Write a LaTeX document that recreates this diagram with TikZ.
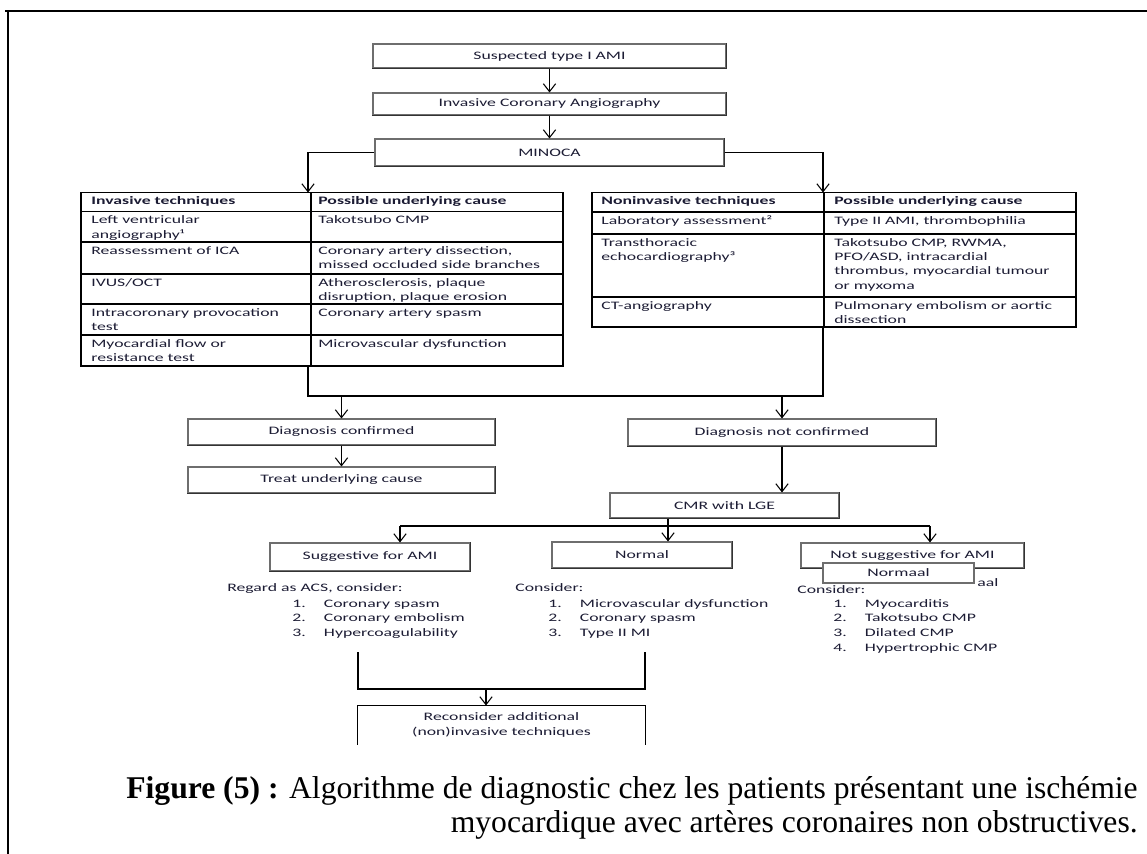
\documentclass[tikz,border=0pt]{standalone}
\usepackage{fontspec}
\setmainfont{Liberation Serif}
\newfontfamily\flowfont{Carlito}[FakeStretch=1.55]
\usetikzlibrary{arrows.meta}
\definecolor{ink}{RGB}{28,28,52}
\definecolor{boxgray}{RGB}{110,110,110}
\newcommand{\litem}[2]{\makebox[18pt][l]{#1}#2}
\tikzset{
  flowbox/.style={rectangle,draw=boxgray,line width=0.6pt,fill=white,inner sep=0pt,
    font=\flowfont\fontsize{6.5}{8.5}\selectfont,text=ink,align=center},
  boxedge/.style={draw=black!80,line width=0.7pt},
  tabtxt/.style={anchor=north west,inner sep=0pt,align=left,
    font=\flowfont\fontsize{6.5}{8.2}\selectfont,text=ink},
  listtxt/.style={anchor=north west,inner sep=0pt,align=left,
    font=\flowfont\fontsize{6.5}{8.5}\selectfont,text=ink},
  listhd/.style={anchor=base west,inner sep=0pt,
    font=\flowfont\fontsize{6.5}{8.5}\selectfont,text=ink},
  tabline/.style={draw=black,line width=0.6pt},
  arr/.style={-{Straight Barb[length=4.5pt,width=7pt]},line width=0.6pt,draw=black},
  link/.style={line width=0.6pt,draw=black},
  capline/.style={anchor=base east,inner sep=0pt,font=\fontsize{18}{21}\selectfont},
}

\begin{document}
\begin{tikzpicture}[x=0.2mm,y=-0.2mm]
  \useasboundingbox (0,0) rectangle (1147,854);

  % page frame
  \draw[line width=1.3pt] (5,11) -- (1147,11);
  \draw[line width=1.3pt] (8,11) -- (8,854);

  % main flow
  \node[flowbox,minimum width=70.6mm,minimum height=4.8mm] (sus) at (549.5,56) {Suspected type I AMI};
  \node[flowbox,minimum width=70.6mm,minimum height=4.4mm] (ica) at (549.5,104) {Invasive Coronary Angiography};
  \node[flowbox,minimum width=69.8mm,minimum height=5.4mm] (mino) at (549.5,152.5) {MINOCA};

  \node[flowbox,minimum width=61.4mm,minimum height=5.2mm] (dc) at (341.5,432) {Diagnosis confirmed};
  \node[flowbox,minimum width=61.4mm,minimum height=5.2mm] (treat) at (341.5,480) {Treat underlying cause};
  \node[flowbox,minimum width=61.6mm,minimum height=5.4mm] (dnc) at (782,432.5) {Diagnosis not confirmed};
  \node[flowbox,minimum width=45.8mm,minimum height=5mm] (cmr) at (724.5,505.5) {CMR with LGE};

  \node[flowbox,minimum width=40mm,minimum height=5.6mm] (sug) at (370,557) {Suggestive for AMI};
  \node[flowbox,minimum width=36mm,minimum height=5.2mm] (nrm) at (642,555) {Normal};
  \node[flowbox,minimum width=44.6mm,minimum height=5mm] (nsug) at (912.5,555.5) {Not suggestive for AMI};

  \foreach \n in {sus,ica,mino,dc,treat,dnc,cmr,sug,nrm,nsug}
    \draw[boxedge] (\n.north east) -- (\n.south east) -- (\n.south west);

  % left table
  \draw[tabline] (81,192.5) rectangle (563,366);
  \draw[tabline] (311,192.5) -- (311,366);
  \foreach \y in {211.7,242,274,304,335}
    \draw[tabline] (81,\y) -- (563,\y);
  \node[tabtxt] (lh1) at (91,194.2) {\strut\textbf{Invasive techniques}};
  \node[tabtxt] (lh2) at (318,194.2) {\strut\textbf{Possible underlying cause}};
  \node[tabtxt] (la1) at (91,213.4) {\strut Left ventricular\\angiography¹};
  \node[tabtxt] (lb1) at (318,213.4) {\strut Takotsubo CMP};
  \node[tabtxt] (la2) at (91,243.7) {\strut Reassessment of ICA};
  \node[tabtxt] (lb2) at (318,243.7) {\strut Coronary artery dissection,\\missed occluded side branches};
  \node[tabtxt] (la3) at (91,275.7) {\strut IVUS/OCT};
  \node[tabtxt] (lb3) at (318,275.7) {\strut Atherosclerosis, plaque\\disruption, plaque erosion};
  \node[tabtxt] (la4) at (91,305.7) {\strut Intracoronary provocation\\test};
  \node[tabtxt] (lb4) at (318,305.7) {\strut Coronary artery spasm};
  \node[tabtxt] (la5) at (91,336.7) {\strut Myocardial flow or\\resistance test};
  \node[tabtxt] (lb5) at (318,336.7) {\strut Microvascular dysfunction};

  % right table
  \draw[tabline] (592,192.5) rectangle (1076,327);
  \draw[tabline,line width=1.1pt] (1076,192.5) -- (1076,327);
  \draw[tabline] (824,192.5) -- (824,327);
  \foreach \y in {212,234,297}
    \draw[tabline] (592,\y) -- (1076,\y);
  \node[tabtxt] (rh1) at (601,194.2) {\strut\textbf{Noninvasive techniques}};
  \node[tabtxt] (rh2) at (834,194.2) {\strut\textbf{Possible underlying cause}};
  \node[tabtxt] (ra1) at (601,213.7) {\strut Laboratory assessment²};
  \node[tabtxt] (rb1) at (834,213.7) {\strut Type II AMI, thrombophilia};
  \node[tabtxt] (ra2) at (601,235.7) {\strut Transthoracic\\echocardiography³};
  \node[tabtxt] (rb2) at (834,235.7) {\strut Takotsubo CMP, RWMA,\\PFO/ASD, intracardial\\thrombus, myocardial tumour\\or myxoma};
  \node[tabtxt] (ra3) at (601,298.7) {\strut CT-angiography};
  \node[tabtxt] (rb3) at (834,298.7) {\strut Pulmonary embolism or aortic\\dissection};

  % what to consider
  \node[listhd] (sughd) at (227,591.7) {Regard as ACS, consider:};
  \node[listtxt] (suglist) at (292,596.2)
    {\strut\litem{1.}{Coronary spasm}\\\litem{2.}{Coronary embolism}\\\litem{3.}{Hypercoagulability}};
  \node[listhd] (nrmhd) at (515,591.7) {Consider:};
  \node[listtxt] (nrmlist) at (548,596.2)
    {\strut\litem{1.}{Microvascular dysfunction}\\\litem{2.}{Coronary spasm}\\\litem{3.}{Type II MI}};
  \node[listhd] (nsghd) at (797,593) {Consider:};
  \node[listtxt] (nsglist) at (833,596.2)
    {\strut\litem{1.}{Myocarditis}\\\litem{2.}{Takotsubo CMP}\\\litem{3.}{Dilated CMP}\\\litem{4.}{Hypertrophic CMP}};
  \node[listhd] (aal) at (977,586) {aal};
  \node[flowbox,minimum width=30.2mm,minimum height=4mm] (nrml) at (898.5,573) {Normaal};
  \draw[boxedge,draw=boxgray] (nrml.north east) -- (nrml.south east) -- (nrml.south west);

  % last step, box open at the bottom
  \node[flowbox,draw=none,fill=none,minimum width=57.4mm,minimum height=7.6mm] (rec) at (501.5,725)
    {Reconsider additional\\(non)invasive techniques};
  \draw[link] (rec.south west) |- (rec.north) -| (rec.south east);

  % connectors
  \draw[arr] (sus) -- (ica);
  \draw[arr] (ica) -- (mino);
  \coordinate (ltop) at (308,192.5);
  \coordinate (rtop) at (823,192.5);
  \draw[arr] (mino.west) -| (ltop);
  \draw[arr] (mino.east) -| (rtop);

  \coordinate (lfoot) at (308,366);
  \coordinate (rfoot) at (823,327);
  \coordinate (jl) at (308,396);
  \coordinate (jr) at (823,396);
  \draw[link] (lfoot) -- (jl) -- (jr) -- (rfoot);
  \draw[arr] (dc.north |- jl) -- (dc);
  \draw[arr] (dnc.north |- jr) -- (dnc);
  \draw[arr] (dc) -- (treat);
  \draw[arr] (dnc.south) -- (dnc.south |- cmr.north);

  \coordinate (fan) at (668,526);
  \coordinate (fanl) at (400,526);
  \coordinate (fanr) at (930,526);
  \draw[link] (cmr.south -| fan) -- (fan);
  \draw[link] (fanl) -- (fanr);
  \draw[arr] (fan) -- (fan |- nrm.north);
  \draw[arr] (fanl) -- (fanl |- sug.north);
  \draw[arr] (fanr) -- (fanr |- nsug.north);

  \coordinate (bl) at (358,652);
  \coordinate (br) at (645,652);
  \coordinate (jb) at (486,689);
  \draw[link] (bl) |- (jb) -| (br);
  \draw[arr] (jb) -- (jb |- rec.north);

  % caption
  \node[capline] (cap1) at (1138,798)
    {\textbf{Figure (5) :} Algorithme de diagnostic chez les patients présentant une ischémie};
  \node[capline] (cap2) at (1138,832)
    {myocardique avec artères coronaires non obstructives.};
\end{tikzpicture}
\end{document}
